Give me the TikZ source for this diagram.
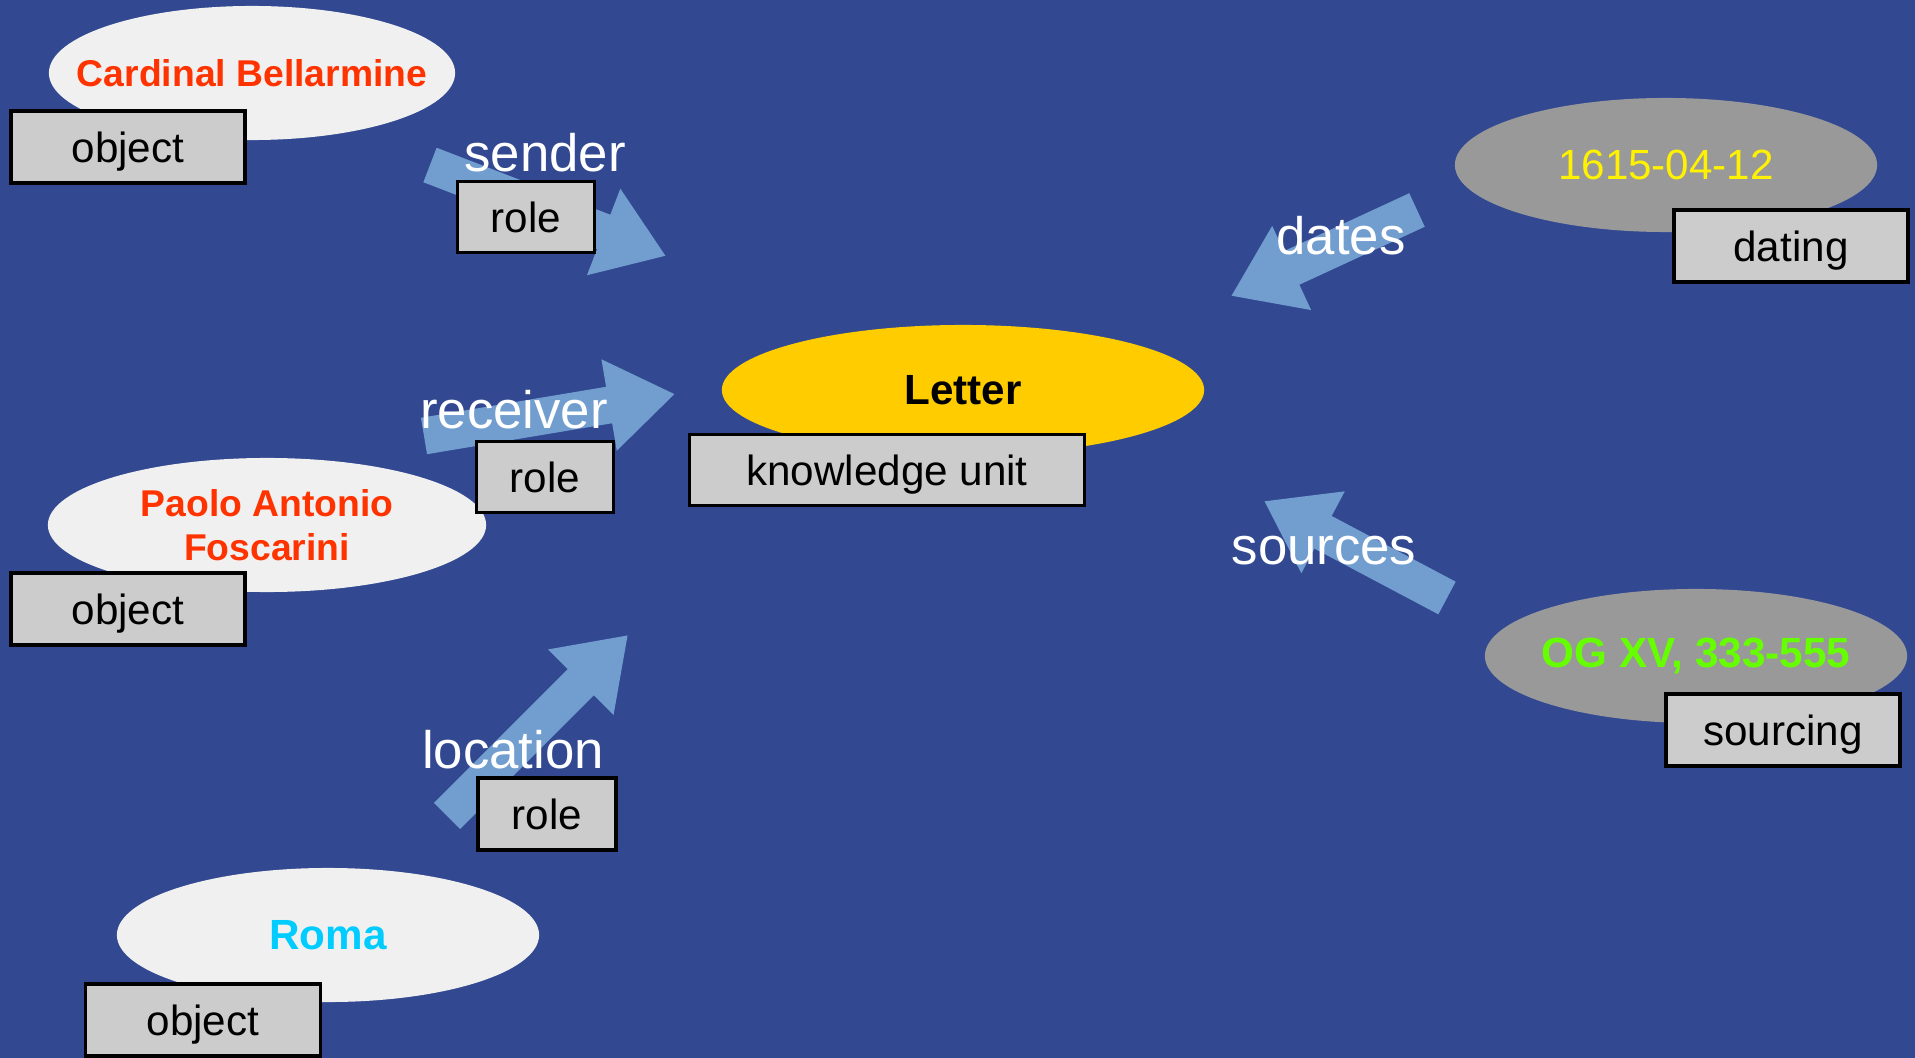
\documentclass[tikz,border=0pt]{standalone}
\usepackage{fontspec}
\setmainfont{Liberation Sans}
\usetikzlibrary{shapes.geometric,arrows.meta}

\definecolor{bgblue}{RGB}{50,73,146}
\definecolor{linkblue}{RGB}{113,158,207}
\definecolor{lightent}{RGB}{240,240,240}
\definecolor{grayent}{RGB}{153,153,153}
\definecolor{boxgray}{RGB}{204,204,204}
\definecolor{letteryellow}{RGB}{255,204,0}
\definecolor{namered}{RGB}{255,51,0}
\definecolor{namecyan}{RGB}{0,204,255}
\definecolor{namegreen}{RGB}{102,255,0}

\begin{document}
\begin{tikzpicture}[x=0.01cm,y=-0.01cm]
        \tikzstyle{entity}=[ellipse,inner xsep=-4mm,inner ysep=0pt,minimum width=42.2mm,minimum height=13.4mm,font=\fontsize{10.6}{12.5}\selectfont\bfseries,align=center]
        \tikzstyle{typebox}=[rectangle,draw=black,line width=1pt,fill=boxgray,minimum width=23.4mm,minimum height=7.2mm,inner sep=0pt,text height=8.8pt,text depth=0pt,font=\fontsize{12}{14}\selectfont]
        \tikzstyle{rolelabel}=[text=white,inner sep=0pt,font=\fontsize{15}{18}\selectfont]
        \tikzstyle{link}=[line width=10.5pt,draw=linkblue,-{Triangle[length=19pt,width=25pt]}]

      \begin{scope}
         \fill[bgblue] (0,0) rectangle (1915,1058);

         % links into the letter
         \coordinate (s0) at (430,165);
         \coordinate (s1) at (666,256);
         \draw[link] (s0) to (s1);

         \coordinate (r0) at (424,436);
         \coordinate (r1) at (675,394);
         \draw[link] (r0) to (r1);

         \coordinate (l0) at (447,816);
         \coordinate (l1) at (628,635);
         \draw[link] (l0) to (l1);

         \coordinate (d0) at (1417,210);
         \coordinate (d1) at (1231,296);
         \draw[link] (d0) to (d1);

         \coordinate (q0) at (1447,598);
         \coordinate (q1) at (1264,501);
         \draw[link] (q0) to (q1);

         % entities
         \node[entity,fill=lightent,text=namered,minimum width=40.6mm] (cardinal) at (252,73) {Cardinal Bellarmine};
         \node[entity,fill=letteryellow,minimum width=48.2mm,minimum height=13mm,font=\fontsize{12}{14}\selectfont\bfseries] (letter) at (963,390) {Letter};
         \node[entity,fill=lightent,text=namered,minimum width=43.8mm] (paolo) at (267,525) {Paolo Antonio\\Foscarini};
         \node[entity,fill=lightent,text=namecyan,font=\fontsize{12}{14}\selectfont\bfseries] (roma) at (328,935) {Roma};
         \node[entity,fill=grayent,text=yellow,font=\fontsize{12}{14}\selectfont] (date) at (1666,165) {1615-04-12};
         \node[entity,fill=grayent,text=namegreen,font=\fontsize{12}{14}\selectfont\bfseries] (og) at (1696,656) {OG XV, 333-555};

         % type boxes
         \node[typebox] (obj1) at (128,147) {object};
         \node[typebox] (obj2) at (128,609) {object};
         \node[typebox,minimum width=23.5mm] (obj3) at (203,1020) {object};
         \node[typebox,minimum width=13.7mm,minimum height=7.1mm] (role1) at (526,217) {role};
         \node[typebox,minimum width=13.7mm,minimum height=7.1mm] (role2) at (545,477) {role};
         \node[typebox,minimum width=13.8mm] (role3) at (547,814) {role};
         \node[typebox,minimum width=39.5mm,minimum height=7.1mm] (ku) at (887,470) {knowledge unit};
         \node[typebox] (dating) at (1791,246) {dating};
         \node[typebox] (sourcing) at (1783,730) {sourcing};

         % link labels
         \node[rolelabel] (sender) at (545,153) {sender};
         \node[rolelabel] (receiver) at (514,410) {receiver};
         \node[rolelabel] (location) at (513,750) {location};
         \node[rolelabel] (dates) at (1341,236) {dates};
         \node[rolelabel] (sources) at (1324,551) {sources};

      \end{scope}
    \end{tikzpicture}
\end{document}
